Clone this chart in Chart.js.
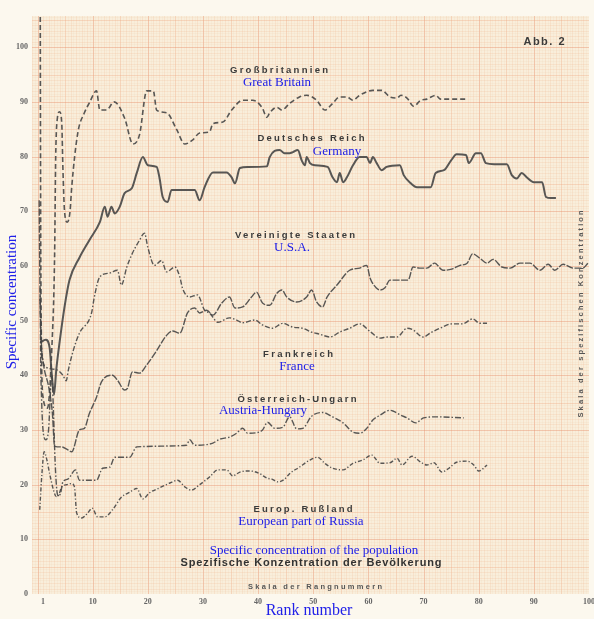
<!DOCTYPE html>
<html>
<head>
<meta charset="utf-8">
<script src="https://cdn.jsdelivr.net/npm/chart.js@4.4.1/dist/chart.umd.min.js"></script>
<style>
html, body { margin: 0; padding: 0; background: #fcf8ee; }
</style>
</head>
<body>
<canvas id="myChart" width="594" height="619"></canvas>
<script>
// rank number -> specific concentration (Abb. 2)
var xTicks = [1, 10, 20, 30, 40, 50, 60, 70, 80, 90, 100];
var yTicks = [0, 10, 20, 30, 40, 50, 60, 70, 80, 90, 100];

var greatBritain = [[0.5,105.5],[0.6,60],[1.0,36],[1.8,34],[2.6,45],[3.1,62],[3.3,80],[3.6,87],[4.0,88.2],[4.4,86],[4.6,78],[4.9,70],[5.4,68],[5.9,70],[6.2,74.4],[7.3,84.3],[8.5,88],[9.4,89.8],[10.7,92],[11.3,88.5],[12.5,88.5],[13.9,90],[15.8,87],[17.3,82.3],[18.5,84],[19.8,92],[21,92],[21.6,88.5],[23.4,88],[25.2,85],[26.7,82.3],[28.1,83],[29.4,84.3],[31.2,84.5],[31.8,86],[33.6,86.3],[35.2,88.5],[37.2,90.3],[39,90.3],[40.7,89],[41.6,87.2],[42.1,88],[43.4,89],[44.3,88.5],[45.7,89.7],[47.5,90.9],[48.8,91.2],[50.6,90.3],[52.1,88.5],[53.5,89.7],[54.8,90.9],[56.1,90.9],[57.2,90.3],[58.4,91.2],[60.8,92.1],[62.4,92.1],[63.9,90.9],[65.2,90.7],[65.9,91.2],[67,90.7],[68.2,89.2],[69.5,90.3],[70.6,90.5],[72.2,91.2],[73.1,90.5],[74.2,90.5],[77.9,90.5]];

var germany = [[0.5,46],[1.5,46.5],[2.2,45],[2.6,40],[3.0,36.5],[3.4,41],[4.0,46],[4.9,52.5],[5.8,57.4],[7.6,61.5],[9.4,64.7],[11.3,68],[12.2,70.8],[12.7,69],[13.4,70.8],[14,69.6],[14.9,70.8],[15.8,73.3],[17.1,74.2],[18,77],[19.1,79.9],[20,78.4],[21.6,78.1],[22.1,76.2],[22.7,72.6],[23.6,71.7],[24.3,73.9],[27,73.9],[28.5,73.9],[29.4,72],[30.3,74.4],[31.8,77.1],[34.3,77.1],[35.2,76.2],[35.8,75.1],[36.7,77.9],[38.1,78.1],[41.6,78.2],[42.1,79.9],[43.9,81.2],[44.8,80.6],[45.7,80.6],[46.3,80.8],[47.2,81.2],[47.9,79.3],[48.5,78.4],[48.8,79.9],[49.4,78.8],[50.3,78.4],[52.6,78.1],[53.5,76.2],[54.3,75.3],[54.8,77],[55.4,75.3],[56.1,76.2],[57.2,78.4],[58.4,79.9],[59.7,79.9],[60.3,78.8],[60.8,79.9],[61.5,78.8],[62.4,77.5],[63.3,78.1],[65.7,78.4],[66.4,76.6],[67.7,75.1],[68.8,74.4],[71.3,74.4],[72.2,77],[73.7,77.5],[75,79.3],[76,80.4],[77.7,80.3],[78.2,78.8],[79.5,80.6],[80.4,80.6],[81.3,78.8],[82.8,78.6],[85.1,78.6],[86,76.6],[86.9,76],[87.8,77],[88.7,76.2],[90,75.3],[91.5,75.3],[92.2,72.6],[93.1,72.4],[94,72.4]];

var usa = [[0.3,72],[0.4,60],[0.6,48],[1.1,42],[2.0,38],[2.7,33],[3.1,27],[4.4,26.9],[5.3,26.5],[6.2,26],[7.6,30],[8.5,30.3],[9.4,33],[10.7,36],[11.6,38.8],[13.6,40],[14.5,39.1],[15.8,37.3],[16.3,37.6],[17.2,40.6],[18.5,40.4],[19.8,41.9],[21.6,44.5],[23.4,47.3],[24.5,48.1],[25.8,47.7],[27.2,51.4],[28.5,52.3],[29.4,51.4],[30.7,51.9],[31.8,51],[33.4,53.2],[34.8,54.3],[35.8,52.3],[37.2,52.5],[38.8,54.3],[39.7,55.2],[40.8,53.2],[42.1,52.8],[43.4,55],[44.3,55.6],[45.2,54.3],[47,53.4],[48.8,54.3],[49.7,55.6],[50.6,53.4],[51.7,52.5],[52.5,54.3],[54.3,56.5],[56.6,59.2],[58.4,59.6],[59.7,60.1],[60.3,57.8],[61.5,55.9],[62.1,55.6],[63,56],[63.9,57.4],[65.2,57.4],[67.2,57.4],[68.1,59.8],[69.3,59.6],[70.6,59.6],[72,60.5],[73.5,59.2],[75.1,59.4],[76.6,60.1],[77.9,60.5],[78.9,62.2],[80.2,61.4],[81.5,60.5],[82.6,61.2],[84.2,59.8],[85.7,59.6],[87.5,60.5],[89.3,60.5],[91.1,59.2],[92.6,60.3],[93.8,59.2],[95.3,60.3],[97.1,59.6],[98.9,59.6],[99.8,60.5]];

var france = [[0.45,54],[0.8,44],[1.5,41.5],[3.5,41],[4.6,40],[5.2,39],[5.6,41],[6.5,44.6],[7.6,47.7],[9.8,51.4],[10.3,54.3],[11.3,58],[13.1,58.7],[14.5,59.2],[15.2,56.5],[16.2,59.8],[17.2,62.3],[18.5,64.7],[19.4,66],[20,63.4],[21.2,60.1],[22.5,61],[23.4,58.9],[24.9,59.8],[25.8,58],[26.3,55.9],[27.6,54.3],[29,54.7],[30.3,51.9],[31.2,51.4],[32.7,49.7],[34.8,50.5],[36.1,50.1],[37.2,49.6],[39.4,50.1],[40.8,49.2],[42.6,48.6],[44.5,49.5],[46.3,48.8],[48.1,48.6],[49.7,47.9],[51.2,47.5],[53,47],[54.8,47.9],[56.6,48.6],[58.4,49.4],[60.3,48],[62.1,46.8],[63.5,47],[65.2,47],[67,48.6],[68.1,48.3],[69.9,47],[71.5,47.9],[73,48.6],[75.1,49.4],[77.1,49.4],[78.9,50.3],[80.2,49.5],[81.5,49.5]];

var austria = [[0.5,56],[0.55,45],[0.7,37],[1.0,30],[1.5,28.2],[2.0,30],[2.4,38],[2.6,40],[2.9,33],[3.2,24],[3.5,19],[3.8,17.9],[4.2,18.5],[4.6,20.5],[5.5,21],[6.9,22.7],[7.6,20.8],[10.7,20.8],[11.8,23],[13.1,23.2],[14,25],[16.7,25],[18,26.9],[27,27.2],[27.6,28.2],[28.5,27.2],[31.8,27.6],[33,28.3],[34.8,28.7],[36.1,29.4],[37.2,30.3],[38.1,29.4],[39.7,29.5],[40.8,30],[41.7,31.4],[43,30.3],[44.5,30.5],[45.7,32.4],[47,30.2],[48.1,30.3],[49.7,32.5],[51.7,33.2],[53.5,32.4],[55.4,31.3],[57.2,29.6],[58.4,29.4],[59.7,30.3],[60.8,31.8],[62.1,32.7],[63.9,33.6],[64.6,33.4],[65.9,32.7],[67,32.2],[68.6,31.3],[70,32.2],[72.4,32.4],[77.3,32.2]];

var russia = [[0.4,15.4],[0.8,22],[1.2,26],[1.7,24.5],[2.2,22],[2.9,19],[3.4,17.8],[3.8,18],[4.4,19.6],[5.3,20],[6.2,20.2],[6.7,19.6],[7.1,14.8],[8.0,13.9],[9.1,14.8],[9.9,15.7],[10.9,14.1],[12.2,14.1],[13.6,15.4],[15.2,17.7],[16.7,18.6],[18,19.3],[19.1,17.4],[20.3,18.5],[22.1,19.4],[24,20.3],[25.4,20.8],[26.7,19.6],[27.9,19],[29.4,20],[31.2,21.4],[32.7,22.7],[34.3,22.7],[35.4,21.6],[36.7,22.3],[38.5,22.5],[40.3,22],[41.6,21.2],[42.5,21],[43.6,20.5],[44.8,21],[45.7,22],[47.5,23.2],[49.4,24.5],[50.8,25],[52.1,23.9],[53.5,23],[55.4,22.7],[57.2,23.9],[59,24.5],[60.6,25.4],[62.1,23.9],[63.9,24],[65.2,24.8],[66.1,23.6],[67.9,25.2],[69.5,24.1],[70.6,23.6],[71.9,24],[73.3,22.3],[74.6,23],[76,24.1],[77.9,24.3],[79.1,23.6],[80,22.5],[80.9,23],[81.5,23.6]];

// label text: [german, english]
var seriesNames = [
  ["Großbritannien", "Great Britain"],
  ["Deutsches Reich", "Germany"],
  ["Vereinigte Staaten", "U.S.A."],
  ["Frankreich", "France"],
  ["Österreich-Ungarn", "Austria-Hungary"],
  ["Europ. Rußland", "European part of Russia"]
];

function pts(arr) {
  return arr.map(function (p) { return { x: p[0], y: p[1] }; });
}

var ink = "rgba(70,70,70,0.9)";

// graph paper drawn through the scales
var paper = {
  id: "paper",
  beforeDraw: function (chart) {
    var c = chart.ctx, a = chart.chartArea;
    var xs = chart.scales.x, ys = chart.scales.y;
    c.save();
    c.fillStyle = "#fcf8ee";
    c.fillRect(0, 0, chart.width, chart.height);
    c.fillStyle = "#f9eedb";
    c.fillRect(a.left, a.top, a.right - a.left, a.bottom - a.top);
    function style(i) {
      if (i % 20 === 0) return ["rgba(232,140,105,0.42)", 1];
      if (i % 10 === 0) return ["rgba(236,165,125,0.34)", 1];
      if (i % 2 === 0) return ["rgba(238,180,140,0.26)", 0.8];
      return ["rgba(240,195,160,0.18)", 0.6];
    }
    var i, p, s;
    for (i = -2; i <= 200; i++) {
      p = Math.round(xs.getPixelForValue(i / 2)) + 0.5;
      if (p < a.left || p > a.right) continue;
      s = style(i);
      c.strokeStyle = s[0]; c.lineWidth = s[1];
      c.beginPath(); c.moveTo(p, a.top); c.lineTo(p, a.bottom); c.stroke();
    }
    for (i = 0; i <= 211; i++) {
      p = Math.round(ys.getPixelForValue(i / 2)) + 0.5;
      if (p < a.top || p > a.bottom) continue;
      s = style(i);
      c.strokeStyle = s[0]; c.lineWidth = s[1];
      c.beginPath(); c.moveTo(a.left, p); c.lineTo(a.right, p); c.stroke();
    }
    c.restore();
  }
};

function spaced(c, text, cx, cy, width) {
  c.letterSpacing = "0px";
  var w = c.measureText(text).width;
  var sp = text.length > 1 ? (width - w) / (text.length - 1) : 0;
  c.letterSpacing = sp.toFixed(2) + "px";
  c.textAlign = "left";
  c.fillText(text, cx - width / 2, cy);
  c.letterSpacing = "0px";
}

var texts = {
  id: "texts",
  afterDraw: function (chart) {
    var c = chart.ctx;
    c.save();
    c.textBaseline = "middle";
    var grey = "#3b3b3b", blue = "#2020e8";
    // german series labels + english translations
    var de = [[279, 70, 98], [311, 138, 107], [295, 235, 120], [298, 354, 70], [297, 399, 119], [303, 509, 99]];
    var en = [[277, 83], [337, 152], [292, 248], [297, 367], [263, 411], [301, 522]];
    for (var i = 0; i < seriesNames.length; i++) {
      c.fillStyle = grey;
      c.font = "bold 9.5px 'Liberation Sans'";
      spaced(c, seriesNames[i][0], de[i][0], de[i][1], de[i][2]);
      c.fillStyle = blue;
      c.font = "13px 'Liberation Serif'";
      c.textAlign = "center";
      c.fillText(seriesNames[i][1], en[i][0], en[i][1]);
    }
    c.fillStyle = grey;
    c.font = "bold 11px 'Liberation Sans'";
    spaced(c, "Abb. 2", 544, 42, 41);

    c.fillStyle = blue;
    c.font = "13px 'Liberation Serif'";
    c.textAlign = "center";
    c.fillText("Specific concentration of the population", 314, 551);

    c.fillStyle = "#333";
    c.font = "bold 11px 'Liberation Sans'";
    spaced(c, "Spezifische Konzentration der Bevölkerung", 311, 563, 261);

    c.fillStyle = "#555";
    c.font = "bold 7.5px 'Liberation Sans'";
    spaced(c, "Skala der Rangnummern", 315, 587, 134);

    c.fillStyle = blue;
    c.font = "16px 'Liberation Serif'";
    c.textAlign = "center";
    c.fillText("Rank number", 309, 611);

    c.save();
    c.translate(12, 302);
    c.rotate(-Math.PI / 2);
    c.font = "15px 'Liberation Serif'";
    c.fillText("Specific concentration", 0, 0);
    c.restore();

    c.save();
    c.translate(581, 314);
    c.rotate(-Math.PI / 2);
    c.fillStyle = "#555";
    c.font = "bold 7.5px 'Liberation Sans'";
    spaced(c, "Skala der spezifischen Konzentration", 0, 0, 207);
    c.restore();

    c.restore();
  }
};

function line(data, dash, width) {
  return {
    data: pts(data),
    borderColor: ink,
    borderWidth: width,
    borderDash: dash,
    pointRadius: 0,
    fill: false,
    cubicInterpolationMode: "monotone"
  };
}

var ctx = document.getElementById("myChart").getContext("2d");
var myChart = new Chart(ctx, {
  type: "line",
  data: {
    datasets: [
      line(greatBritain, [5, 3], 1.6),
      line(germany, [], 2),
      line(usa, [7, 1.5], 1.4),
      line(france, [5, 2, 1.5, 2], 1.4),
      line(austria, [6, 2, 1.5, 2], 1.4),
      line(russia, [4, 2, 1.2, 2], 1.4)
    ]
  },
  options: {
    responsive: false,
    animation: false,
    layout: { padding: { left: 0, right: 5, top: 16, bottom: 0 } },
    plugins: { legend: { display: false }, tooltip: { enabled: false } },
    scales: {
      x: {
        type: "linear",
        min: -1,
        max: 100,
        grid: { display: false, drawTicks: false },
        border: { display: false },
        afterBuildTicks: function (s) { s.ticks = xTicks.map(function (v) { return { value: v }; }); },
        afterFit: function (s) { s.height = 25; s.paddingLeft = 0; s.paddingRight = 0; },
        ticks: { padding: 3, maxRotation: 0, autoSkip: false, color: "#666", font: { family: "'Liberation Serif'", size: 8, weight: "bold" } }
      },
      y: {
        min: 0,
        max: 105.7,
        grid: { display: false, drawTicks: false },
        border: { display: false },
        afterBuildTicks: function (s) { s.ticks = yTicks.map(function (v) { return { value: v }; }); },
        afterFit: function (s) { s.width = 32; s.paddingTop = 0; s.paddingBottom = 0; },
        ticks: { padding: 4, autoSkip: false, color: "#666", font: { family: "'Liberation Serif'", size: 8, weight: "bold" } }
      }
    }
  },
  plugins: [paper, texts]
});
</script>
</body>
</html>
